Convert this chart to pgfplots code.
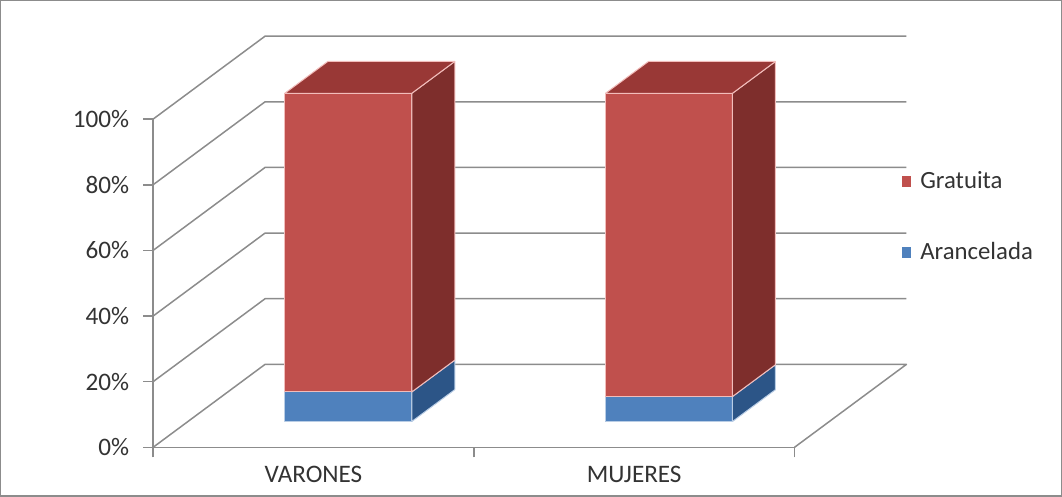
\documentclass[border=0pt]{standalone}
\usepackage{fontspec}
\setmainfont{Carlito}
\usepackage{pgfplots}
\usepackage{pgfplotstable}
\pgfplotsset{compat=1.18}

\definecolor{redF}{HTML}{C0504D}
\definecolor{redS}{HTML}{7E2E2C}
\definecolor{redT}{HTML}{993836}
\definecolor{bluF}{HTML}{4F81BD}
\definecolor{bluS}{HTML}{2C5587}
\definecolor{gridc}{HTML}{8C8C8C}
\definecolor{edgeR}{HTML}{F2BDBB}
\definecolor{edgeB}{HTML}{B9CDE5}

\pgfplotstableread{
x arancelada gratuita
0.5 9.0 91.0
1.5 7.6 92.4
}\datatable

% oblique depth: full depth shifts x by 0.349 and y by 25.27
% bar spans depth 0.311 .. 0.695
\newcommand\face[3]{%
  \edef\tmp{\noexpand\addplot[fill=#1, draw=#2, line width=0.5pt, line join=round, forget plot] coordinates {#3} -- cycle;}\tmp}

\newcommand\drawbar[1]{%
  \pgfplotstablegetelem{#1}{x}\of\datatable \let\xc\pgfplotsretval
  \pgfplotstablegetelem{#1}{arancelada}\of\datatable \let\va\pgfplotsretval
  \pgfplotstablegetelem{#1}{gratuita}\of\datatable \let\vg\pgfplotsretval
  \pgfmathsetmacro\xL{\xc-0.198+0.1085}%
  \pgfmathsetmacro\xR{\xc+0.198+0.1085}%
  \pgfmathsetmacro\xLb{\xc-0.198+0.2426}%
  \pgfmathsetmacro\xRb{\xc+0.198+0.2426}%
  \pgfmathsetmacro\yA{\va+7.86}%
  \pgfmathsetmacro\yAb{\va+17.56}%
  \pgfmathsetmacro\yT{\va+\vg+7.86}%
  \pgfmathsetmacro\yTb{\va+\vg+17.56}%
  \face{bluF}{edgeB}{(\xL,7.86) (\xR,7.86) (\xR,\yA) (\xL,\yA)}%
  \face{bluS}{edgeB}{(\xR,7.86) (\xRb,17.56) (\xRb,\yAb) (\xR,\yA)}%
  \face{redF}{edgeR}{(\xL,\yA) (\xR,\yA) (\xR,\yT) (\xL,\yT)}%
  \face{redS}{edgeR}{(\xR,\yA) (\xRb,\yAb) (\xRb,\yTb) (\xR,\yT)}%
  \face{redT}{edgeR}{(\xL,\yT) (\xR,\yT) (\xRb,\yTb) (\xLb,\yTb)}%
}

\begin{document}
\begin{tikzpicture}
\begin{axis}[
  x=160.5pt, y=1.6425pt,
  xmin=0, xmax=2, ymin=0, ymax=100,
  axis lines=left,
  axis line style={gridc, line width=0.75pt, -},
  clip=false,
  xtick={0,1,2}, xticklabels={},
  extra x ticks={0.5,1.5},
  extra x tick labels={VARONES,MUJERES},
  extra x tick style={major tick length=0pt, xticklabel style={yshift=-6pt}},
  ytick={0,20,40,60,80,100},
  yticklabel={\pgfmathprintnumber{\tick}\%},
  yticklabel style={xshift=-3.5pt},
  /pgf/number format/assume math mode=true,
  tick align=outside, major tick length=5pt,
  tick style={gridc, line width=0.75pt},
  ticklabel style={font=\fontsize{12.6}{14}\selectfont, text=black!80},
  legend cell align=left,
  legend style={at={(axis cs:2.333,70.2)}, anchor=west, draw=none, fill=none,
    font=\fontsize{12.4}{14}\selectfont, text=black!80,
    inner sep=0pt, nodes={inner sep=0pt},
    row sep=25.5pt,
    /tikz/every odd column/.append style={column sep=4.5pt}},
]
% left wall and back wall gridlines
\addplot[gridc, line width=0.75pt, forget plot] coordinates {(0,20) (0.349,45.27) (2.349,45.27)};
\addplot[gridc, line width=0.75pt, forget plot] coordinates {(0,40) (0.349,65.27) (2.349,65.27)};
\addplot[gridc, line width=0.75pt, forget plot] coordinates {(0,60) (0.349,85.27) (2.349,85.27)};
\addplot[gridc, line width=0.75pt, forget plot] coordinates {(0,80) (0.349,105.27) (2.349,105.27)};
\addplot[gridc, line width=0.75pt, forget plot] coordinates {(0,100) (0.349,125.27) (2.349,125.27)};
% floor
\addplot[gridc, line width=0.75pt, line join=round, forget plot] coordinates {(0,0) (0.349,25.27) (2.349,25.27) (2,0)};
% bars
\drawbar{0}
\drawbar{1}
% legend
\addlegendimage{legend image code/.code={\fill[redF] (0pt,-2.4pt) rectangle (4.4pt,2.4pt);}}
\addlegendentry{Gratuita}
\addlegendimage{legend image code/.code={\fill[bluF] (0pt,-2.4pt) rectangle (4.4pt,2.4pt);}}
\addlegendentry{Arancelada}
% outer frame of the chart area
\draw[gridc, line width=0.75pt] (axis cs:-0.4751,-14.76) rectangle (axis cs:2.8318,136.07);
\end{axis}
\end{tikzpicture}
\end{document}
